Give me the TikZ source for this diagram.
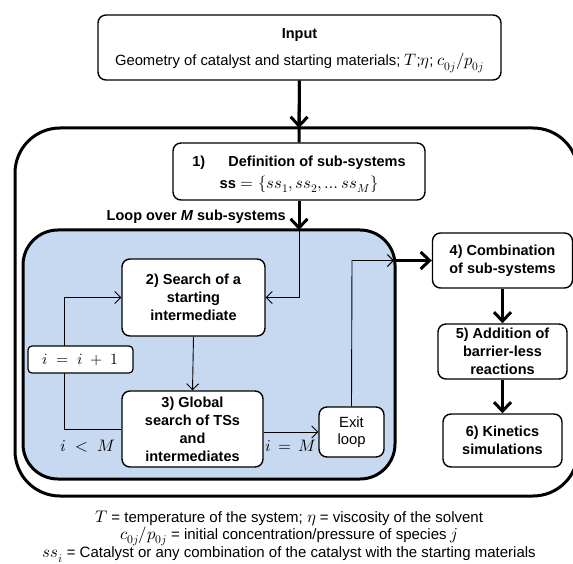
\documentclass[tikz,border=0pt]{standalone}
\usepackage{fontspec}
\usepackage{unicode-math}
\setmainfont{Liberation Sans}
\setmathfont{Latin Modern Math}[Scale=1.12]
\usetikzlibrary{arrows.meta}
\definecolor{bluefill}{RGB}{198,217,240}
\begin{document}
\begin{tikzpicture}[x=1pt,y=-1pt,
  box/.style={draw, rounded corners=8pt, line width=1.4pt, fill=white, align=center, inner sep=0pt, font=\fontsize{14.5}{18}\selectfont\bfseries},
  bigline/.style={line width=3pt},
  bigarrow/.style={line width=3pt, -{Straight Barb[length=9pt,width=17pt]}},
  smallarrow/.style={line width=0.9pt, -{Straight Barb[length=6pt,width=12pt]}},
  thinline/.style={line width=0.9pt},
  lbl/.style={inner sep=0pt, font=\fontsize{14.8}{17}\selectfont}
]
\useasboundingbox (0,0) rectangle (573,564);
% outer frame
\draw[line width=3pt, rounded corners=45pt] (15,128) rectangle (578,496);
% blue loop frame
\draw[line width=3pt, rounded corners=35pt, fill=bluefill] (23,230) rectangle (395,479);

% input
\node[box, minimum width=403pt, minimum height=65pt] (input) at (299.5,47.5) {};
\node[lbl, font=\fontsize{14.5}{17}\selectfont\bfseries] (inputtitle) at (299.5,35) {Input};
\node[lbl] (inputtext) at (299.5,63) {Geometry of catalyst and starting materials; $T$;$\eta$; $c_{0j}/p_{0j}$};

% box 1
\node[box, minimum width=252pt, minimum height=57pt] (b1) at (299,171.5) {};
\node[lbl, font=\fontsize{14.5}{17}\selectfont\bfseries] (b1t) at (299,163) {1)\hspace{1.6em}Definition of sub-systems};
\node[lbl] (b1m) at (299,184) {$\mathbf{ss}=\{ss_1,ss_2,\ldots ss_M\}$};

\coordinate (frametop) at (299,128);
\coordinate (bluetop) at (299,230);
\draw[bigline] (input.south) -- (b1.north);
\draw[bigarrow] (input.south) -- (frametop);
\draw[bigarrow] (b1.south) -- (bluetop);
\node[lbl, anchor=east, font=\fontsize{14.5}{17}\selectfont\bfseries] (looplbl) at (286,217) {Loop over \textit{M} sub-systems};

% box 2, 3
\node[box, minimum width=143pt, minimum height=77pt] (b2) at (193.5,297.5) {2) Search of a\\starting\\intermediate};
\node[box, minimum width=141pt, minimum height=76pt] (b3) at (192.5,429) {3) Global\\search of TSs\\and\\intermediates};
\node[box, font=\fontsize{14.8}{17}\selectfont, minimum width=65pt, minimum height=50pt] (exit) at (351.5,432) {Exit\\loop};

\coordinate (loopdown) at (299,297.5);
\draw[smallarrow] (bluetop) -- (loopdown) -- (b2.east);
\draw[smallarrow] (b2.south) -- (b3.north);
\coordinate (lbl1) at (64,429);
\coordinate (lbl2) at (64,297.5);
\draw[smallarrow] (b3.west) -- (lbl1) -- (lbl2) -- (b2.west);
\node[draw, rounded corners=4pt, line width=1.2pt, fill=white, minimum width=105pt, minimum height=27pt, inner sep=0pt, font=\fontsize{14}{17}\selectfont] (inc) at (80.5,359.5) {$i\;=\;i\;+\;1$};
\node[lbl] (ltm) at (88,446) {$i\;<\;M$};
\draw[smallarrow] (b3.east |- exit.west) -- (exit.west);
\node[lbl] (eqm) at (291,446) {$i\,=\,M$};

% right column
\node[box, minimum width=140pt, minimum height=55pt] (b4) at (502.5,260.5) {4) Combination\\of sub-systems};
\node[box, minimum width=129pt, minimum height=55pt] (b5) at (502.5,351.5) {5) Addition of\\barrier-less\\reactions};
\node[box, minimum width=119pt, minimum height=53pt] (b6) at (502.5,440.5) {6) Kinetics\\simulations};

\coordinate (exitup) at (352,260.5);
\coordinate (blueright) at (394,260.5);
\draw[smallarrow] (exit.north) -- (exitup) -- (blueright);
\draw[bigarrow] (blueright) -- (b4.west);
\draw[bigarrow] (b4.south) -- (b5.north);
\draw[bigarrow] (b5.south) -- (b6.north);

% legend
\node[lbl, align=center, font=\fontsize{15}{16}\selectfont] (legend) at (289,536.5) {$T$ = temperature of the system; $\eta$ = viscosity of the solvent\\$c_{0j}/p_{0j}$ = initial concentration/pressure of species $j$\\$ss_i$ = Catalyst or any combination of the catalyst with the starting materials};
\end{tikzpicture}
\end{document}
